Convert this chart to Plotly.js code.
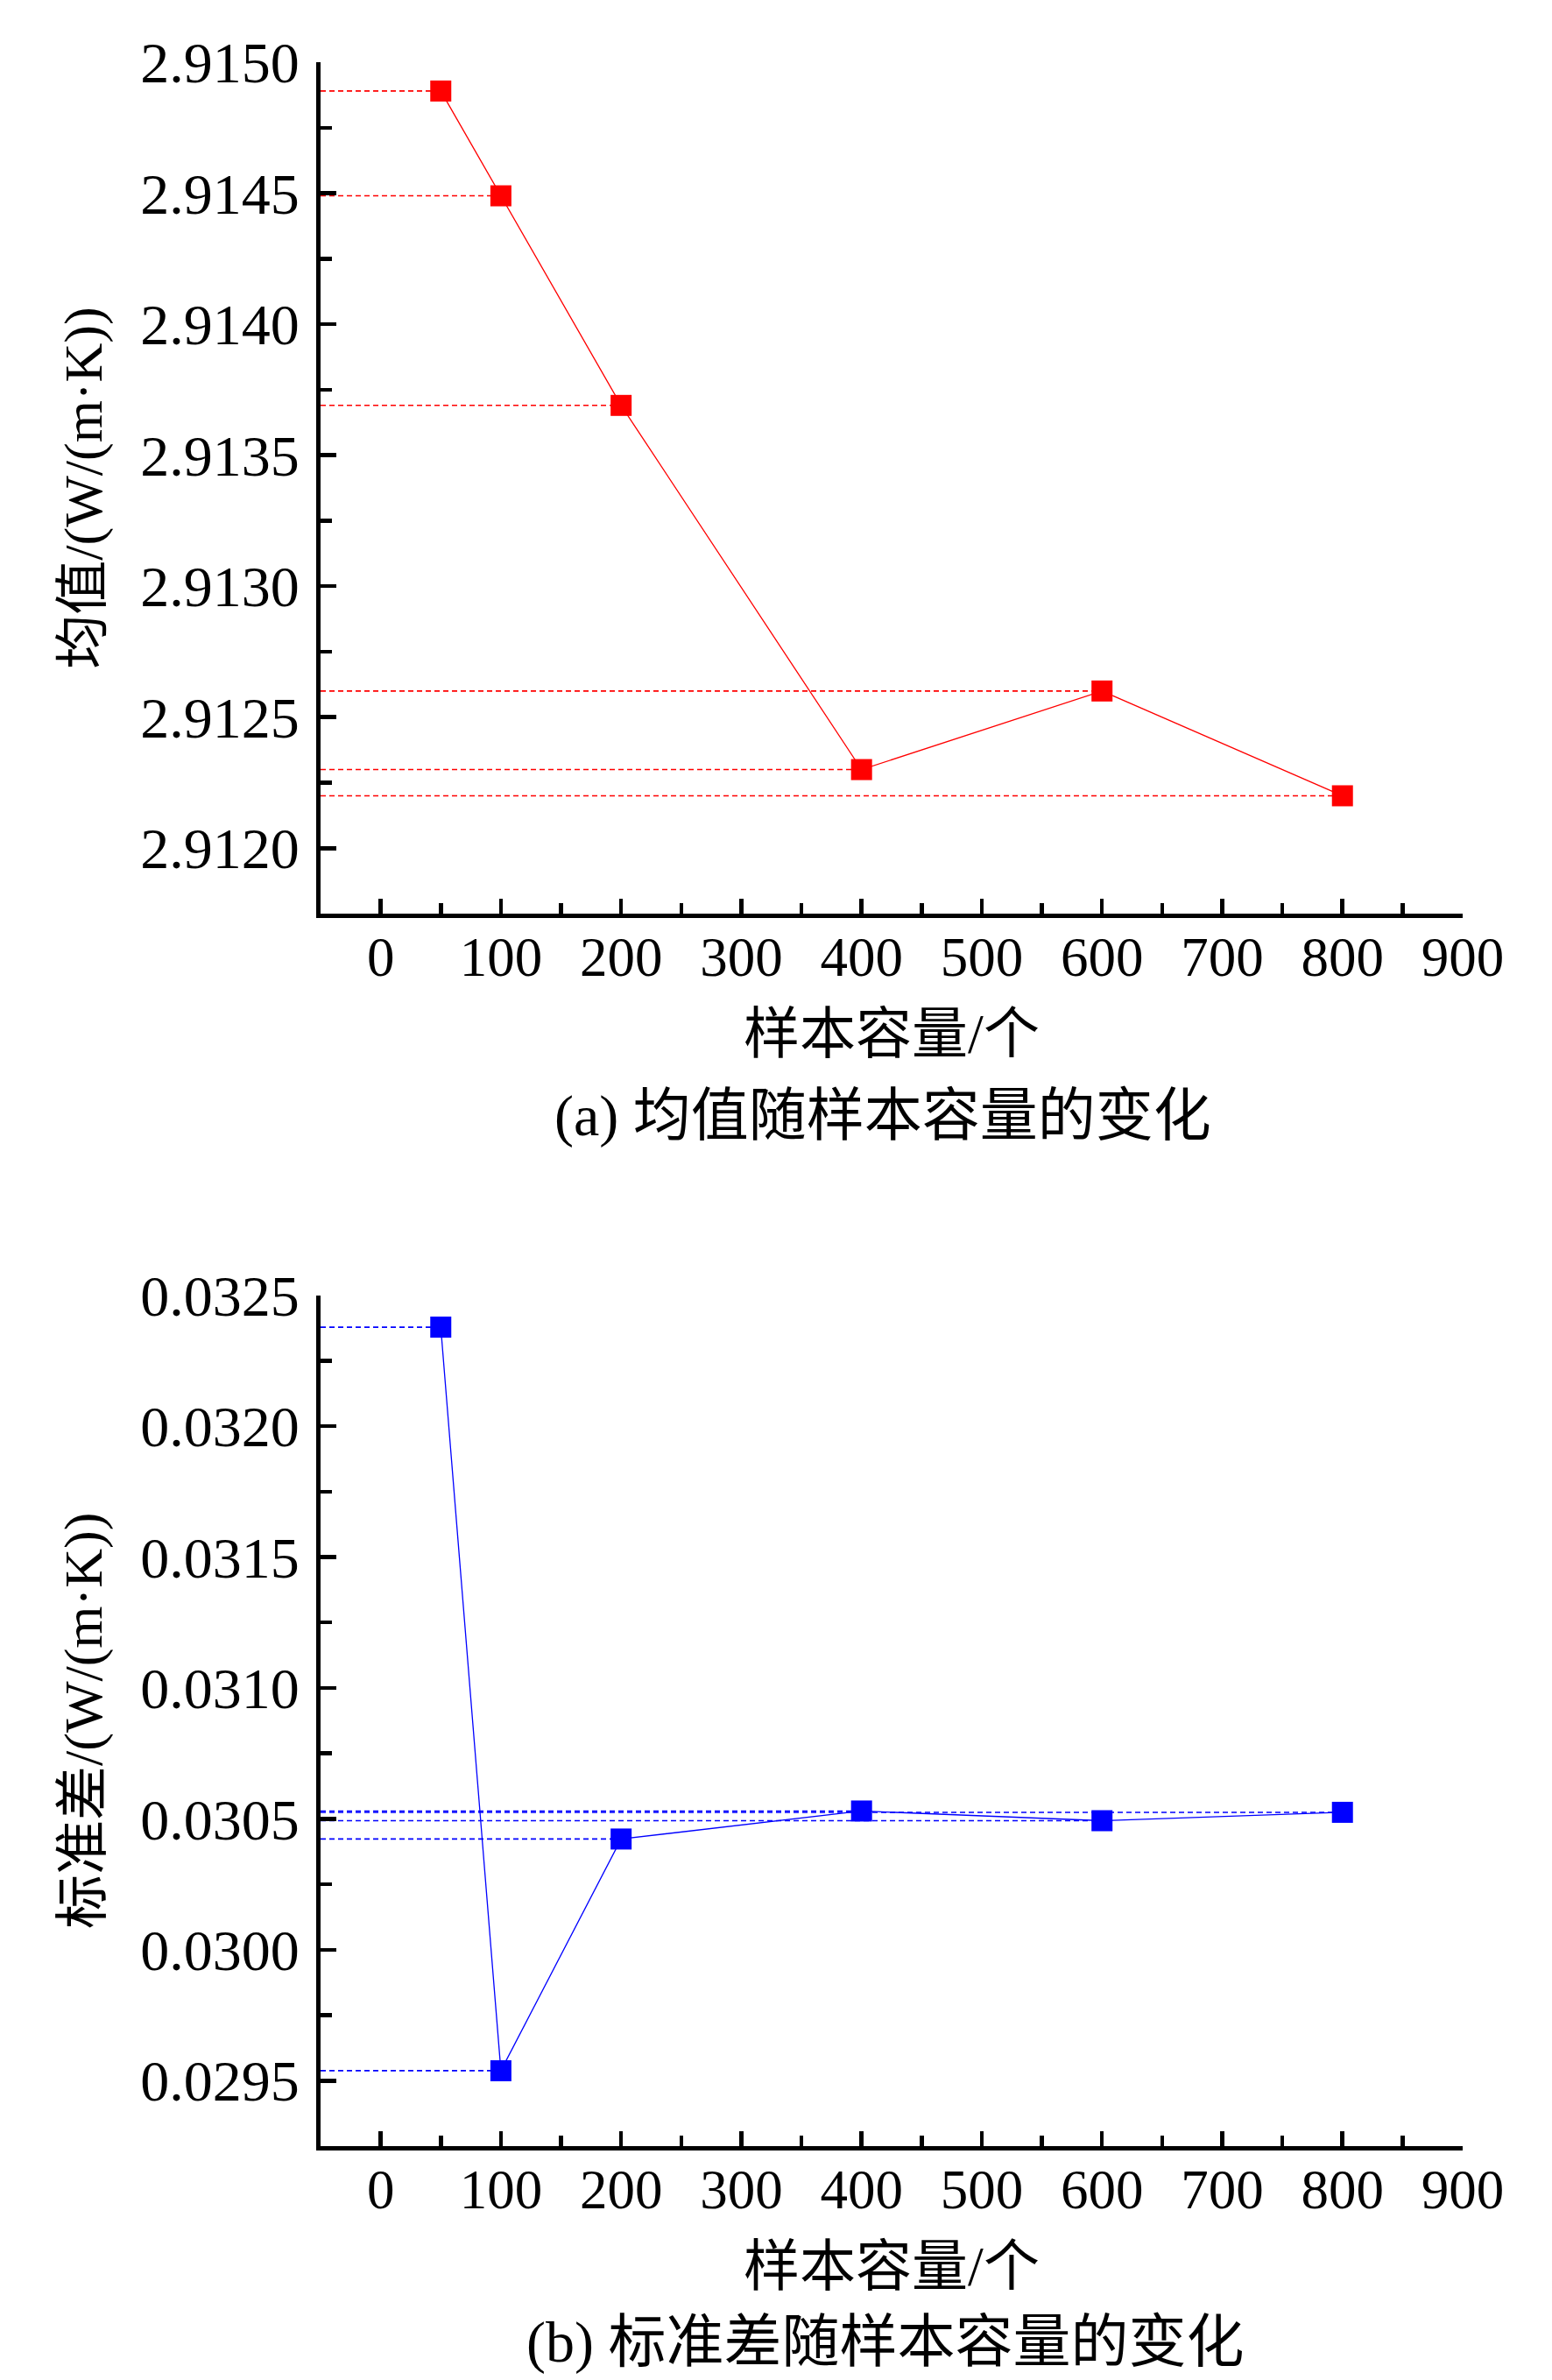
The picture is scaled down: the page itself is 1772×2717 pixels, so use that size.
<!DOCTYPE html>
<html>
<head>
<meta charset="utf-8">
<script src="https://cdn.plot.ly/plotly-3.0.1.min.js"></script>
<style>
  html, body { margin: 0; padding: 0; background: #fff; }
  #chart { width: 1772px; height: 2717px; }
</style>
</head>
<body>
<div id="chart"></div>
<script>
// data ------------------------------------------------------------------------
var sampleSizes = [50, 100, 200, 400, 600, 800];
var meanValues = [2.91489, 2.91449, 2.91369, 2.9123, 2.9126, 2.9122];
var stdValues = [0.032378, 0.029538, 0.030423, 0.03053, 0.030493, 0.030525];

var xTickVals = [0, 100, 200, 300, 400, 500, 600, 700, 800, 900];
var xRange = [-50, 900];
var meanRange = [2.91175, 2.915];
var stdRange = [0.02925, 0.0325];

var xTitle = "样本容量/个";
var meanTitle = "均值/(W/(m·K))";
var stdTitle = "标准差/(W/(m·K))";
var captionA = "(a) 均值随样本容量的变化";
var captionB = "(b) 标准差随样本容量的变化";

// styles ----------------------------------------------------------------------
var serif = "'Liberation Serif', 'Times New Roman', 'Noto Sans CJK SC', serif";
var RED = "#ff0000";
var BLUE = "#0000ff";

// horizontal dashed guide from the y axis to each point
function guideTraces(xs, ys, color, xa, ya) {
	var out = [];
	for (let i = 0; i < xs.length; i++) {
		out.push({
			x: [xRange[0], xs[i]],
			y: [ys[i], ys[i]],
			xaxis: xa,
			yaxis: ya,
			mode: "lines",
			type: "scatter",
			line: { color: color, width: 1.6, dash: "6px,4px" },
			hoverinfo: "skip",
			showlegend: false,
		});
	}
	return out;
}

var traceMean = {
	x: sampleSizes,
	y: meanValues,
	xaxis: "x",
	yaxis: "y",
	mode: "lines+markers",
	type: "scatter",
	line: { color: RED, width: 1.3 },
	marker: { symbol: "square", size: 24, color: RED },
	showlegend: false,
};

var traceStd = {
	x: sampleSizes,
	y: stdValues,
	xaxis: "x2",
	yaxis: "y2",
	mode: "lines+markers",
	type: "scatter",
	line: { color: BLUE, width: 1.3 },
	marker: { symbol: "square", size: 24, color: BLUE },
	showlegend: false,
};

var data = []
	.concat(guideTraces(sampleSizes, meanValues, RED, "x", "y"))
	.concat(guideTraces(sampleSizes, stdValues, BLUE, "x2", "y2"))
	.concat([traceMean, traceStd]);

function xAxis(anchor) {
	return {
		anchor: anchor,
		range: xRange,
		tickvals: xTickVals,
		ticks: "inside",
		ticklen: 17,
		tickwidth: 4.5,
		tickcolor: "#000",
		minor: { dtick: 50, tick0: 0, ticks: "inside", ticklen: 12, tickwidth: 4.5, tickcolor: "#000" },
		showline: true,
		linewidth: 5,
		linecolor: "#000",
		showgrid: false,
		zeroline: false,
		ticklabelstandoff: -10,
		tickfont: { family: serif, size: 63, color: "#000" },
		title: { text: xTitle, font: { family: serif, size: 64, color: "#000" }, standoff: 32 },
		automargin: false,
		fixedrange: true,
	};
}

function yAxis(anchor, domain, range, title) {
	return {
		anchor: anchor,
		domain: domain,
		range: range,
		dtick: 0.0005,
		tick0: 0,
		tickformat: ".4f",
		ticks: "inside",
		ticklen: 18,
		tickwidth: 4.5,
		tickcolor: "#000",
		minor: { dtick: 0.00025, tick0: 0, ticks: "inside", ticklen: 13, tickwidth: 4.5, tickcolor: "#000" },
		showline: true,
		linewidth: 5,
		linecolor: "#000",
		showgrid: false,
		zeroline: false,
		ticklabelstandoff: 6,
		tickfont: { family: serif, size: 66, color: "#000" },
		title: { text: title, font: { family: serif, size: 62, color: "#000" }, standoff: 25 },
		automargin: false,
		fixedrange: true,
	};
}

var layout = {
	width: 1772,
	height: 2717,
	margin: { l: 366, r: 102, t: 71, b: 267 },
	paper_bgcolor: "#fff",
	plot_bgcolor: "#fff",
	showlegend: false,
	xaxis: xAxis("y"),
	yaxis: yAxis("x", [0.5914, 1], meanRange, meanTitle),
	xaxis2: xAxis("y2"),
	yaxis2: yAxis("x2", [0, 0.4083], stdRange, stdTitle),
	annotations: [
		{
			text: captionA,
			xref: "paper",
			yref: "paper",
			x: 0.492,
			y: 0.4943,
			xanchor: "center",
			yanchor: "middle",
			showarrow: false,
			font: { family: serif, size: 66, color: "#000" },
		},
		{
			text: captionB,
			xref: "paper",
			yref: "paper",
			x: 0.494,
			y: -0.0942,
			xanchor: "center",
			yanchor: "middle",
			showarrow: false,
			font: { family: serif, size: 66, color: "#000" },
		},
	],
};

Plotly.newPlot("chart", data, layout, { displayModeBar: false, staticPlot: true });
</script>
</body>
</html>
